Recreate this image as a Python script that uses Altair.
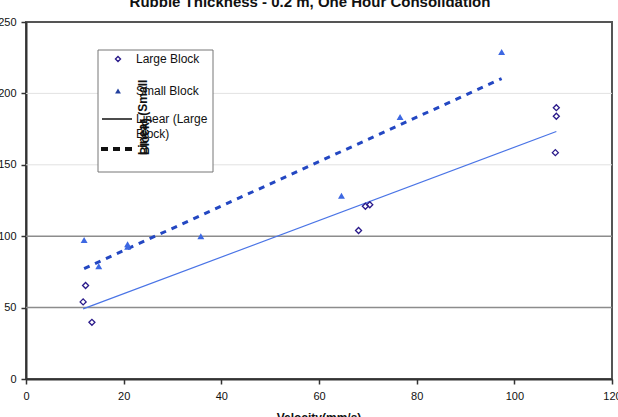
import altair as alt
import pandas as pd

# Measured velocities (mm/s) and loads for each block size
large_x = [11.7, 12.2, 13.5, 68.1, 69.5, 70.4, 108.6, 108.6, 108.4]
large_y = [54.0, 65.5, 39.7, 104.0, 121.0, 122.0, 190.0, 184.0, 158.5]
small_x = [11.9, 14.9, 20.8, 20.8, 35.8, 64.6, 76.6, 97.4]
small_y = [97.3, 79.0, 94.3, 92.6, 100.0, 128.4, 183.5, 229.0]

x_ticks = [0, 20, 40, 60, 80, 100, 120]
y_ticks = [0, 50, 100, 150, 200, 250]
light_grid = [150, 200]
dark_grid = [50, 100]

W, H = 586, 357
FONT = "Liberation Sans"

large = pd.DataFrame({"x": large_x, "y": large_y})
small = pd.DataFrame({"x": small_x, "y": small_y})

xs = alt.Scale(domain=[0, 120], nice=False, zero=True)
ys = alt.Scale(domain=[0, 250], nice=False, zero=True)

x_axis = alt.Axis(values=x_ticks, title=None, grid=False, tickSize=5, tickWidth=1.5,
                  tickColor="#333", domainColor="#333", domainWidth=2,
                  labelFont=FONT, labelFontSize=11, labelColor="#111", labelPadding=6,
                  labelFlush=False)
y_axis = alt.Axis(values=y_ticks, title=None, grid=False, tickSize=5, tickWidth=1.5,
                  tickColor="#333", domainColor="#333", domainWidth=2,
                  labelFont=FONT, labelFontSize=11, labelColor="#111", labelPadding=5,
                  labelFlush=False)

X = alt.X("x:Q", scale=xs, axis=x_axis)
Y = alt.Y("y:Q", scale=ys, axis=y_axis)

grid_light = alt.Chart(pd.DataFrame({"y": light_grid})).mark_rule(
    color="#e2e2e2", strokeWidth=1).encode(y=Y)
grid_dark = alt.Chart(pd.DataFrame({"y": dark_grid})).mark_rule(
    color="#8c8c8c", strokeWidth=1.5).encode(y=Y)

large_pts = alt.Chart(large).mark_point(
    shape="diamond", size=36, filled=False, color="#2a1a8a", strokeWidth=1.3, opacity=1
).encode(x=X, y=Y)

small_pts = alt.Chart(small).mark_point(
    shape="triangle-up", size=48, filled=True, color="#3d68e2", opacity=1
).encode(x=X, y=Y)

large_fit = alt.Chart(large).transform_regression("x", "y").mark_line(
    color="#4a74e6", strokeWidth=1.2).encode(x=X, y=Y)

small_fit = alt.Chart(small).transform_regression("x", "y").mark_line(
    color="#2347c2", strokeWidth=3, strokeDash=[6, 6]).encode(x=X, y=Y)


def label(text, px, py, **kw):
    """A single text mark placed in pixel space."""
    return alt.Chart(pd.DataFrame({"t": [text]})).mark_text(font=FONT, color="#111", **kw).encode(
        x=alt.value(px), y=alt.value(py), text="t:N")


one = pd.DataFrame({"a": [0]})

# Chart title and x-axis title
title = label("Rubble Thickness - 0.2 m, One Hour Consolidation", 284, -15,
              fontSize=15, fontWeight="bold", baseline="alphabetic", align="center")
xtitle = label("Velocity(mm/s)", 293, 400,
               fontSize=12, fontWeight="bold", baseline="alphabetic", align="center")

# Legend box drawn inside the plot
LX, LY = 98 - 26, 50 - 22
legend_box = alt.Chart(one).mark_rect(fill="white", stroke="#777", strokeWidth=1).encode(
    x=alt.value(LX), x2=alt.value(LX + 115), y=alt.value(LY), y2=alt.value(LY + 122))

leg_diamond = alt.Chart(one).mark_point(
    shape="diamond", size=26, filled=False, color="#2a1a8a", strokeWidth=1.3, opacity=1
).encode(x=alt.value(LX + 20), y=alt.value(LY + 9))
leg_tri = alt.Chart(one).mark_point(
    shape="triangle-up", size=34, filled=True, color="#23409e", opacity=1
).encode(x=alt.value(LX + 20), y=alt.value(LY + 41))
leg_solid = alt.Chart(one).mark_rule(color="#111", strokeWidth=1.5).encode(
    x=alt.value(LX + 4), x2=alt.value(LX + 34), y=alt.value(LY + 69))
leg_dash = alt.Chart(one).mark_rule(color="#111", strokeWidth=4, strokeDash=[7, 5]).encode(
    x=alt.value(LX + 3), x2=alt.value(LX + 34), y=alt.value(LY + 99))

leg_kw = dict(fontSize=12, align="left", baseline="middle")
leg_texts = [
    label("Large Block", LX + 38, LY + 9, **leg_kw),
    label("Small Block", LX + 38, LY + 41, **leg_kw),
    label("Linear (Large", LX + 38, LY + 69, **leg_kw),
    label("Block)", LX + 38, LY + 84, **leg_kw),
]

rot_kw = dict(fontSize=12, fontWeight="bold", angle=270, align="left", baseline="alphabetic")
rot_texts = [
    label("Linear (Small", LX + 49, LY + 105, **rot_kw),
    label("Block)", LX + 51, LY + 105, **rot_kw),
]

chart = alt.layer(
    grid_light, grid_dark, large_fit, small_fit, large_pts, small_pts,
    legend_box, leg_diamond, leg_tri, leg_solid, leg_dash, *leg_texts, *rot_texts,
    title, xtitle,
).properties(
    width=W, height=H, autosize="none",
    padding={"left": 26, "top": 22, "right": 6, "bottom": 38},
    background="white",
).configure_view(stroke="#555", strokeWidth=2)

chart.save("out.html", embed_options={"renderer": "svg", "actions": False})
